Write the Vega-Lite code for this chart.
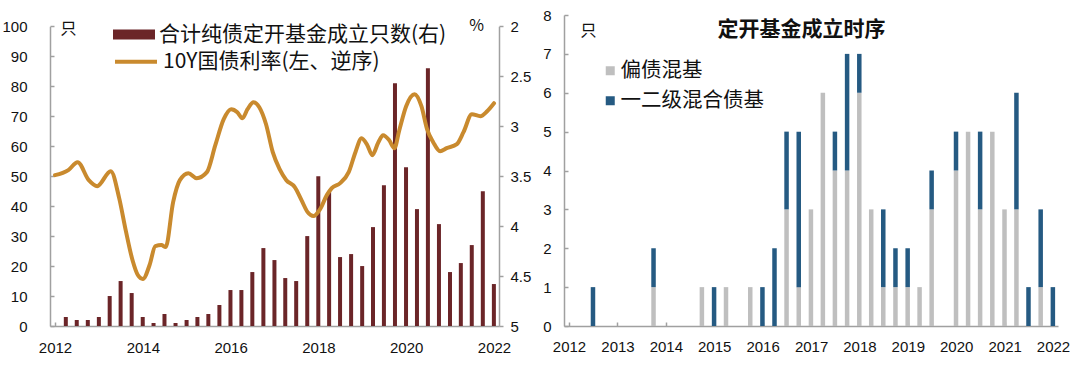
{
  "$schema": "https://vega.github.io/schema/vega-lite/v6.json",
  "background": "white",
  "padding": {"left": 1, "top": 8, "right": 5, "bottom": 5},
  "spacing": 3,
  "resolve": {
    "scale": {"color": "independent", "fill": "independent", "stroke": "independent"},
    "legend": {"color": "independent", "fill": "independent", "stroke": "independent"}
  },
  "config": {
    "view": {"stroke": null},
    "font": "Noto Sans CJK SC",
    "axis": {
      "labelFont": "Liberation Sans",
      "labelFontSize": 15,
      "labelColor": "#111111",
      "domainColor": "#A0A0A0",
      "domainWidth": 1.5,
      "tickColor": "#A0A0A0",
      "tickWidth": 1.5,
      "grid": false,
      "labelFlush": false,
      "labelOverlap": false,
      "titleFont": "Noto Sans CJK SC",
      "titleFontWeight": "normal",
      "titleFontSize": 16,
      "titleColor": "#111111"
    },
    "legend": {
      "padding": 0,
      "labelFont": "Noto Sans CJK SC",
      "labelColor": "#111111",
      "labelLimit": 0
    }
  },
  "hconcat": [
    {
      "width": 449,
      "height": 311,
      "layer": [
        {
          "data": {"values": [
            {"date": "2012-03-31", "n": 3}, {"date": "2012-06-30", "n": 2}, {"date": "2012-09-30", "n": 2}, {"date": "2012-12-31", "n": 3},
            {"date": "2013-03-31", "n": 10}, {"date": "2013-06-30", "n": 15}, {"date": "2013-09-30", "n": 11}, {"date": "2013-12-31", "n": 3},
            {"date": "2014-03-31", "n": 1}, {"date": "2014-06-30", "n": 4}, {"date": "2014-09-30", "n": 1}, {"date": "2014-12-31", "n": 2},
            {"date": "2015-03-31", "n": 3}, {"date": "2015-06-30", "n": 4}, {"date": "2015-09-30", "n": 7}, {"date": "2015-12-31", "n": 12},
            {"date": "2016-03-31", "n": 12}, {"date": "2016-06-30", "n": 18}, {"date": "2016-09-30", "n": 26}, {"date": "2016-12-31", "n": 22},
            {"date": "2017-03-31", "n": 16}, {"date": "2017-06-30", "n": 15}, {"date": "2017-09-30", "n": 30}, {"date": "2017-12-31", "n": 50},
            {"date": "2018-03-31", "n": 45}, {"date": "2018-06-30", "n": 23}, {"date": "2018-09-30", "n": 24}, {"date": "2018-12-31", "n": 20},
            {"date": "2019-03-31", "n": 33}, {"date": "2019-06-30", "n": 47}, {"date": "2019-09-30", "n": 81}, {"date": "2019-12-31", "n": 53},
            {"date": "2020-03-31", "n": 39}, {"date": "2020-06-30", "n": 86}, {"date": "2020-09-30", "n": 34}, {"date": "2020-12-31", "n": 18},
            {"date": "2021-03-31", "n": 21}, {"date": "2021-06-30", "n": 27}, {"date": "2021-09-30", "n": 45}, {"date": "2021-12-31", "n": 14}
          ]},
          "mark": {"type": "bar", "width": 4},
          "encoding": {
            "x": {
              "field": "date", "type": "temporal",
              "scale": {"domain": ["2012-01-01", "2022-01-01"]},
              "axis": {
                "title": null, "format": "%Y",
                "values": [{"year": 2012}, {"year": 2014}, {"year": 2016}, {"year": 2018}, {"year": 2020}, {"year": 2022}],
                "tickSize": -4, "labelPadding": 18
              }
            },
            "y": {
              "field": "n", "type": "quantitative",
              "scale": {"domain": [0, 100], "range": [311, 11.3]},
              "axis": {
                "values": [0, 10, 20, 30, 40, 50, 60, 70, 80, 90, 100],
                "title": "只", "titleAngle": 0, "titleX": 18, "titleY": 13,
                "titleAlign": "center", "titleBaseline": "middle",
                "tickSize": -4, "labelPadding": 27,
                "minExtent": 44, "maxExtent": 44
              }
            },
            "fill": {
              "datum": "合计纯债定开基金成立只数(右)", "type": "nominal",
              "scale": {"range": ["#6B2528"]},
              "legend": {
                "title": null, "orient": "none", "legendX": 63, "legendY": -1.5,
                "symbolType": "M-1,-0.24H1V0.24H-1Z", "symbolSize": 1764,
                "symbolStrokeWidth": 0, "labelFontSize": 21, "labelOffset": 4
              }
            }
          }
        },
        {
          "data": {"values": [
            {"date": "2012-01-01", "y": 3.49}, {"date": "2012-04-21", "y": 3.44}, {"date": "2012-07-07", "y": 3.36},
            {"date": "2012-10-08", "y": 3.54}, {"date": "2012-12-17", "y": 3.6}, {"date": "2013-04-09", "y": 3.45},
            {"date": "2013-06-18", "y": 3.72}, {"date": "2013-08-13", "y": 4.05}, {"date": "2013-10-09", "y": 4.35},
            {"date": "2013-11-20", "y": 4.49}, {"date": "2014-01-01", "y": 4.53}, {"date": "2014-02-26", "y": 4.39},
            {"date": "2014-04-15", "y": 4.2}, {"date": "2014-06-04", "y": 4.19}, {"date": "2014-07-10", "y": 4.21},
            {"date": "2014-09-10", "y": 3.76}, {"date": "2014-11-05", "y": 3.54}, {"date": "2015-01-15", "y": 3.47},
            {"date": "2015-03-25", "y": 3.52}, {"date": "2015-06-18", "y": 3.46}, {"date": "2015-08-27", "y": 3.19},
            {"date": "2015-11-05", "y": 2.93}, {"date": "2016-01-06", "y": 2.83}, {"date": "2016-02-26", "y": 2.86},
            {"date": "2016-04-08", "y": 2.92}, {"date": "2016-05-21", "y": 2.83}, {"date": "2016-07-10", "y": 2.76},
            {"date": "2016-08-27", "y": 2.81}, {"date": "2016-10-22", "y": 2.98}, {"date": "2016-12-17", "y": 3.26},
            {"date": "2017-02-12", "y": 3.43}, {"date": "2017-04-09", "y": 3.54}, {"date": "2017-06-18", "y": 3.61},
            {"date": "2017-08-13", "y": 3.74}, {"date": "2017-10-03", "y": 3.86}, {"date": "2017-11-20", "y": 3.9},
            {"date": "2018-01-15", "y": 3.83}, {"date": "2018-03-12", "y": 3.69}, {"date": "2018-04-22", "y": 3.62},
            {"date": "2018-07-01", "y": 3.57}, {"date": "2018-09-10", "y": 3.46}, {"date": "2018-11-05", "y": 3.26},
            {"date": "2018-12-26", "y": 3.12}, {"date": "2019-02-12", "y": 3.19}, {"date": "2019-03-25", "y": 3.29},
            {"date": "2019-05-15", "y": 3.16}, {"date": "2019-06-23", "y": 3.09}, {"date": "2019-08-13", "y": 3.14},
            {"date": "2019-09-25", "y": 3.22}, {"date": "2019-11-05", "y": 3.04}, {"date": "2020-01-01", "y": 2.8},
            {"date": "2020-03-11", "y": 2.68}, {"date": "2020-05-07", "y": 2.8}, {"date": "2020-06-23", "y": 3.03},
            {"date": "2020-08-13", "y": 3.16}, {"date": "2020-10-09", "y": 3.25}, {"date": "2020-12-03", "y": 3.22},
            {"date": "2021-02-26", "y": 3.18}, {"date": "2021-04-22", "y": 3.06}, {"date": "2021-07-01", "y": 2.88},
            {"date": "2021-09-10", "y": 2.9}, {"date": "2021-11-05", "y": 2.85}, {"date": "2022-01-01", "y": 2.77}
          ]},
          "mark": {"type": "line", "interpolate": "monotone", "strokeWidth": 4, "strokeCap": "round"},
          "encoding": {
            "x": {"field": "date", "type": "temporal", "scale": {"domain": ["2012-01-01", "2022-01-01"]}},
            "y": {
              "field": "y", "type": "quantitative",
              "scale": {"domain": [2, 5], "range": [11.3, 311], "zero": false},
              "axis": {
                "orient": "right",
                "values": [2, 2.5, 3, 3.5, 4, 4.5, 5], "format": "~g",
                "title": "%", "titleAngle": 0, "titleX": -23, "titleY": 10,
                "titleAlign": "center", "titleBaseline": "middle",
                "tickSize": 4, "labelPadding": 7,
                "minExtent": 40, "maxExtent": 40
              }
            },
            "stroke": {
              "datum": "10Y国债利率(左、逆序)", "type": "nominal",
              "scale": {"range": ["#C98A2E"]},
              "legend": {
                "title": null, "orient": "none", "legendX": 63, "legendY": 23.7,
                "symbolType": "stroke", "symbolSize": 1764,
                "symbolStrokeWidth": 4, "labelFontSize": 21, "labelOffset": 4
              }
            }
          }
        }
      ],
      "resolve": {
        "scale": {"y": "independent", "fill": "independent", "stroke": "independent"},
        "legend": {"fill": "independent", "stroke": "independent"}
      }
    },
    {
      "width": 494,
      "height": 311,
      "data": {"values": [
        {"date": "2012-06-30", "series": "一二级混合债基", "n": 1},
        {"date": "2013-09-30", "series": "偏债混基", "n": 1}, {"date": "2013-09-30", "series": "一二级混合债基", "n": 1},
        {"date": "2014-09-30", "series": "偏债混基", "n": 1},
        {"date": "2014-12-31", "series": "一二级混合债基", "n": 1},
        {"date": "2015-03-31", "series": "偏债混基", "n": 1},
        {"date": "2015-09-30", "series": "偏债混基", "n": 1},
        {"date": "2015-12-31", "series": "一二级混合债基", "n": 1},
        {"date": "2016-03-31", "series": "一二级混合债基", "n": 2},
        {"date": "2016-06-30", "series": "偏债混基", "n": 3}, {"date": "2016-06-30", "series": "一二级混合债基", "n": 2},
        {"date": "2016-09-30", "series": "偏债混基", "n": 1}, {"date": "2016-09-30", "series": "一二级混合债基", "n": 4},
        {"date": "2016-12-31", "series": "偏债混基", "n": 3},
        {"date": "2017-03-31", "series": "偏债混基", "n": 6},
        {"date": "2017-06-30", "series": "偏债混基", "n": 4}, {"date": "2017-06-30", "series": "一二级混合债基", "n": 1},
        {"date": "2017-09-30", "series": "偏债混基", "n": 4}, {"date": "2017-09-30", "series": "一二级混合债基", "n": 3},
        {"date": "2017-12-31", "series": "偏债混基", "n": 6}, {"date": "2017-12-31", "series": "一二级混合债基", "n": 1},
        {"date": "2018-03-31", "series": "偏债混基", "n": 3},
        {"date": "2018-06-30", "series": "偏债混基", "n": 1}, {"date": "2018-06-30", "series": "一二级混合债基", "n": 2},
        {"date": "2018-09-30", "series": "偏债混基", "n": 1}, {"date": "2018-09-30", "series": "一二级混合债基", "n": 1},
        {"date": "2018-12-31", "series": "偏债混基", "n": 1}, {"date": "2018-12-31", "series": "一二级混合债基", "n": 1},
        {"date": "2019-03-31", "series": "偏债混基", "n": 1},
        {"date": "2019-06-30", "series": "偏债混基", "n": 3}, {"date": "2019-06-30", "series": "一二级混合债基", "n": 1},
        {"date": "2019-12-31", "series": "偏债混基", "n": 4}, {"date": "2019-12-31", "series": "一二级混合债基", "n": 1},
        {"date": "2020-03-31", "series": "偏债混基", "n": 5},
        {"date": "2020-06-30", "series": "偏债混基", "n": 3}, {"date": "2020-06-30", "series": "一二级混合债基", "n": 2},
        {"date": "2020-09-30", "series": "偏债混基", "n": 5},
        {"date": "2020-12-31", "series": "偏债混基", "n": 3},
        {"date": "2021-03-31", "series": "偏债混基", "n": 3}, {"date": "2021-03-31", "series": "一二级混合债基", "n": 3},
        {"date": "2021-06-30", "series": "一二级混合债基", "n": 1},
        {"date": "2021-09-30", "series": "偏债混基", "n": 1}, {"date": "2021-09-30", "series": "一二级混合债基", "n": 2},
        {"date": "2021-12-31", "series": "一二级混合债基", "n": 1}
      ]},
      "mark": {"type": "bar", "width": 4.5},
      "encoding": {
        "x": {
          "field": "date", "type": "temporal",
          "scale": {"domain": ["2012-01-01", "2022-01-01"]},
          "axis": {
            "format": "%Y",
            "values": [{"year": 2012}, {"year": 2013}, {"year": 2014}, {"year": 2015}, {"year": 2016}, {"year": 2017}, {"year": 2018}, {"year": 2019}, {"year": 2020}, {"year": 2021}, {"year": 2022}],
            "tickSize": -4, "labelPadding": 17,
            "title": "定开基金成立时序", "titleFontSize": 21, "titleFontWeight": "bold",
            "titleX": 237, "titleY": -297, "titleAlign": "center", "titleBaseline": "middle", "titleAngle": 0
          }
        },
        "y": {
          "field": "n", "type": "quantitative", "stack": "zero",
          "scale": {"domain": [0, 8]},
          "axis": {
            "values": [0, 1, 2, 3, 4, 5, 6, 7, 8],
            "title": "只", "titleAngle": 0, "titleX": 24, "titleY": 15.5,
            "titleAlign": "center", "titleBaseline": "middle",
            "tickSize": -4, "labelPadding": 17,
            "minExtent": 22, "maxExtent": 22
          }
        },
        "color": {
          "field": "series", "type": "nominal",
          "scale": {"domain": ["偏债混基", "一二级混合债基"], "range": ["#BFBFBF", "#255A82"]},
          "legend": {
            "title": null, "orient": "none", "legendX": 36, "legendY": 45.5,
            "symbolType": "square", "symbolSize": 81, "symbolStrokeWidth": 0,
            "labelFontSize": 20.5, "labelOffset": 0, "rowPadding": 9
          }
        },
        "order": {"field": "series", "sort": "descending"}
      }
    }
  ]
}
